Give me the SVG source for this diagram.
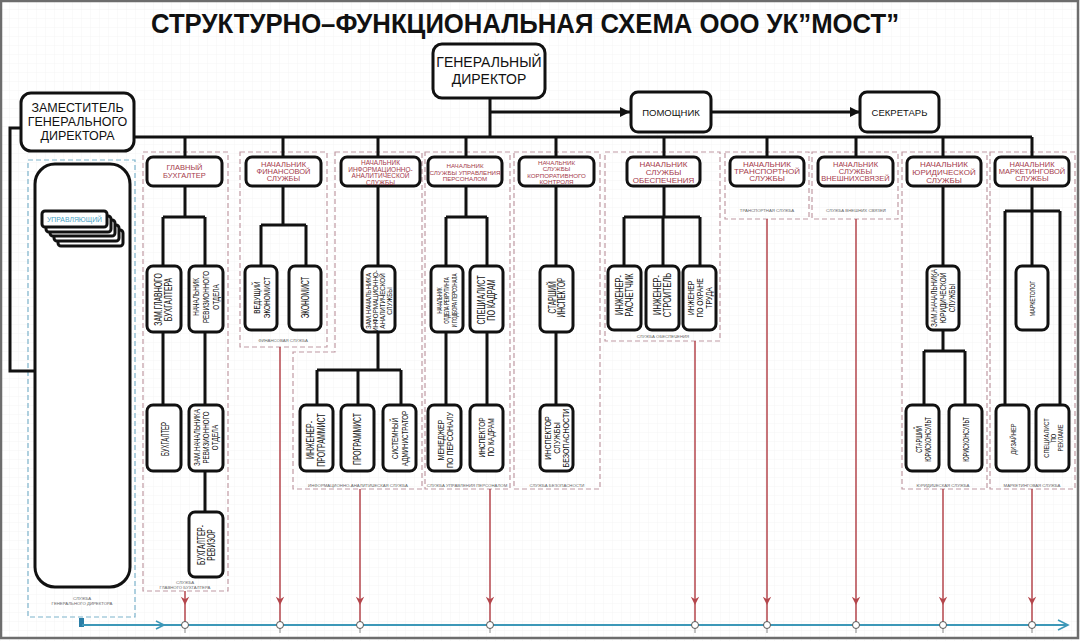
<svg xmlns="http://www.w3.org/2000/svg" width="1080" height="641" viewBox="0 0 1080 641">
<defs>
<pattern id="grid" width="9" height="9" patternUnits="userSpaceOnUse"><path d="M9 0H0V9" fill="none" stroke="#efefef" stroke-width="0.6"/></pattern>
<marker id="ab" viewBox="0 0 10 10" refX="10" refY="5" markerWidth="10" markerHeight="10" markerUnits="userSpaceOnUse" orient="auto"><path d="M0,0L10,5L0,10z" fill="#111"/></marker>
<marker id="ar" viewBox="0 0 10 12" refX="10" refY="6" markerWidth="11" markerHeight="10" markerUnits="userSpaceOnUse" orient="auto"><path d="M0,1L10,6L0,11L3,6z" fill="#b4464c"/></marker>
<style>
.box{fill:#fff;stroke:#111;stroke-width:3}
.ln{fill:none;stroke:#111;stroke-width:3}
.grp{fill:none;stroke:#c09aa3;stroke-width:1.2;stroke-dasharray:5 3}
.gblue{fill:none;stroke:#7cb3cc;stroke-width:1.2;stroke-dasharray:5 3}
.hd{font-family:"Liberation Sans",Arial,sans-serif;fill:#a53b4b;text-anchor:middle;dominant-baseline:central}
.rt{font-family:"Liberation Sans",Arial,sans-serif;fill:#111;text-anchor:middle;dominant-baseline:central}
.bt{font-family:"Liberation Sans",Arial,sans-serif;fill:#111;text-anchor:middle;dominant-baseline:central}
.lbl{font-family:"Liberation Sans",Arial,sans-serif;font-size:4.3px;fill:#666;text-anchor:middle}
.red{fill:none;stroke:#b4464c;stroke-width:1.5}
.dot{fill:#fff;stroke:#555;stroke-width:1}
.tick{stroke:#888;stroke-width:1}
</style>
</defs>
<rect x="0" y="0" width="1080" height="641" fill="#fff"/>
<rect x="0" y="0" width="1080" height="641" fill="url(#grid)"/>
<rect x="1" y="1" width="1077" height="637" fill="none" stroke="#6d6d6d" stroke-width="2.5"/>

<text x="525" y="33" font-family="Liberation Sans, Arial, sans-serif" font-weight="bold" font-size="27" text-anchor="middle" textLength="748" lengthAdjust="spacingAndGlyphs" fill="#111">СТРУКТУРНО–ФУНКЦИОНАЛЬНАЯ СХЕМА ООО УК”МОСТ”</text>

<g id="groups">
<rect class="gblue" x="28" y="160" width="107" height="457"/>
<text class="lbl" x="82" y="600">СЛУЖБА</text><text class="lbl" x="82" y="604.5">ГЕНЕРАЛЬНОГО ДИРЕКТОРА</text>
<rect class="grp" x="143" y="152" width="85" height="439"/>
<text class="lbl" x="185" y="584">СЛУЖБА</text><text class="lbl" x="185" y="588.5">ГЛАВНОГО БУХГАЛТЕРА</text>
<rect class="grp" x="240" y="152" width="87" height="195"/>
<text class="lbl" x="283" y="342">ФИНАНСОВАЯ СЛУЖБА</text>
<path class="grp" d="M335,152H422V489H293V352H335Z"/>
<text class="lbl" x="358" y="487">ИНФОРМАЦИОННО-АНАЛИТИЧЕСКАЯ СЛУЖБА</text>
<rect class="grp" x="425" y="152" width="85" height="337"/>
<text class="lbl" x="467" y="487">СЛУЖБА УПРАВЛЕНИЯ ПЕРСОНАЛОМ</text>
<rect class="grp" x="514" y="152" width="86" height="337"/>
<text class="lbl" x="557" y="487">СЛУЖБА БЕЗОПАСНОСТИ</text>
<rect class="grp" x="605" y="152" width="115" height="189"/>
<text class="lbl" x="663" y="338">СЛУЖБА ОБЕСПЕЧЕНИЯ</text>
<rect class="grp" x="725" y="152" width="84" height="67"/>
<text class="lbl" x="767" y="212">ТРАНСПОРТНАЯ СЛУЖБА</text>
<rect class="grp" x="812" y="152" width="86" height="67"/>
<text class="lbl" x="856" y="212">СЛУЖБА ВНЕШНИХ СВЯЗЕЙ</text>
<rect class="grp" x="902" y="152" width="85" height="337"/>
<text class="lbl" x="943" y="487">ЮРИДИЧЕСКАЯ СЛУЖБА</text>
<rect class="grp" x="990" y="152" width="85" height="337"/>
<text class="lbl" x="1032" y="487">МАРКЕТИНГОВАЯ СЛУЖБА</text>
</g>

<g id="connectors">
<path class="ln" d="M490,98V137M134,137H1032"/>
<path class="ln" d="M490,112H630" marker-end="url(#ab)"/>
<path class="ln" d="M711,112H860" marker-end="url(#ab)"/>
<path class="ln" d="M21,128H10V371H35"/>
<path class="ln" d="M185,137V157M283,137V157M378,137V157M466,137V157M556,137V157M664,137V157M767,137V157M856,137V157M943,137V157M1032,137V157"/>
<path class="ln" d="M185,186V217M163,217H205M163,217V266M205,217V266M163,332V405M205,332V405M205,471V512"/>
<path class="ln" d="M283,186V225M261,225H306M261,225V266M306,225V266"/>
<path class="ln" d="M378,186V266M378,332V370M317,370H401M317,370V405M358,370V405M401,370V405"/>
<path class="ln" d="M466,186V217M446,217H487M446,217V266M487,217V266M446,332V405M487,332V405"/>
<path class="ln" d="M556,186V266M556,332V405"/>
<path class="ln" d="M664,186V217M624,217H700M624,217V266M663,217V266M700,217V266"/>
<path class="ln" d="M943,186V266M943,330V351M924,351H965M924,351V405M965,351V405"/>
<path class="ln" d="M1032,186V266M1005,211H1060M1005,211V405M1060,211V405"/>
<path class="red" d="M185,591V605" marker-end="url(#ar)"/>
<path class="red" d="M280,347V605" marker-end="url(#ar)"/>
<path class="red" d="M360,489V605" marker-end="url(#ar)"/>
<path class="red" d="M490,489V605" marker-end="url(#ar)"/>
<path class="red" d="M695,341V605" marker-end="url(#ar)"/>
<path class="red" d="M767,219V605" marker-end="url(#ar)"/>
<path class="red" d="M856,219V605" marker-end="url(#ar)"/>
<path class="red" d="M943,489V605" marker-end="url(#ar)"/>
<path class="red" d="M1032,489V605" marker-end="url(#ar)"/>
<path class="red" d="M185,605V625M280,605V625M360,605V625M490,605V625M695,605V625M767,605V625M856,605V625M943,605V625M1032,605V625"/>
<rect x="79" y="618" width="5" height="9" fill="#2b7fa8"/>
<path d="M82,625H1067" fill="none" stroke="#3d98b8" stroke-width="2"/>
<path d="M156,621L164,625L156,629" fill="none" stroke="#3d98b8" stroke-width="1.6"/>
<path d="M1058,620L1068,625L1058,630" fill="none" stroke="#3d98b8" stroke-width="1.6"/>
<path class="tick" d="M185,629V633M280,629V633M360,629V633M490,629V633M695,629V633M767,629V633M856,629V633M943,629V633M1032,629V633"/>
<circle class="dot" cx="185" cy="625" r="3.5"/><circle class="dot" cx="280" cy="625" r="3.5"/><circle class="dot" cx="360" cy="625" r="3.5"/><circle class="dot" cx="490" cy="625" r="3.5"/><circle class="dot" cx="695" cy="625" r="3.5"/><circle class="dot" cx="767" cy="625" r="3.5"/><circle class="dot" cx="856" cy="625" r="3.5"/><circle class="dot" cx="943" cy="625" r="3.5"/><circle class="dot" cx="1032" cy="625" r="3.5"/>
</g>

<g id="gen-dir"><rect class="box" x="433" y="44" width="112" height="54" rx="9"/>
<text class="bt" font-size="14"><tspan x="489" y="62">ГЕНЕРАЛЬНЫЙ</tspan><tspan x="489" y="79">ДИРЕКТОР</tspan></text></g>
<g id="pomoshnik"><rect class="box" x="631" y="92" width="80" height="40" rx="7"/>
<text class="bt" font-size="9.5" x="671" y="112">ПОМОЩНИК</text></g>
<g id="sekretar"><rect class="box" x="860" y="92" width="79" height="40" rx="7"/>
<text class="bt" font-size="9.5" x="899.5" y="112">СЕКРЕТАРЬ</text></g>
<g id="zam-gen"><rect class="box" x="21" y="93" width="113" height="58" rx="10"/>
<text class="bt" font-size="12.5"><tspan x="77.5" y="108">ЗАМЕСТИТЕЛЬ</tspan><tspan x="77.5" y="122">ГЕНЕРАЛЬНОГО</tspan><tspan x="77.5" y="136">ДИРЕКТОРА</tspan></text></g>

<g id="upr-container"><rect class="box" x="35" y="164" width="95" height="423" rx="20"/></g>
<g id="upravl">
<rect class="box" stroke-width="2" x="58" y="230" width="65" height="16" rx="3"/>
<rect class="box" stroke-width="2" x="54" y="225" width="65" height="16" rx="3"/>
<rect class="box" stroke-width="2" x="50" y="220" width="65" height="16" rx="3"/>
<rect class="box" stroke-width="2" x="46" y="216" width="65" height="16" rx="3"/>
<rect class="box" stroke-width="2" x="42" y="211" width="65" height="16" rx="3"/>
<text font-family="Liberation Sans, Arial, sans-serif" font-size="7" fill="#4a9fc4" text-anchor="middle" dominant-baseline="central" x="74.5" y="219" textLength="55" lengthAdjust="spacingAndGlyphs">УПРАВЛЯЮЩИЙ</text>
</g>

<g id="glavbuh"><rect class="box" x="147" y="157" width="75" height="29" rx="6"/>
<text class="hd" font-size="7.5"><tspan x="184.5" y="167">ГЛАВНЫЙ</tspan><tspan x="184.5" y="174.5">БУХГАЛТЕР</tspan></text></g>
<g id="zam-glavbuh"><rect class="box" x="147" y="266" width="34" height="66" rx="6"/>
<text class="rt" font-size="10" transform="translate(164,299.5) rotate(-90) scale(0.69,1)"><tspan x="0" y="-6">ЗАМ.ГЛАВНОГО</tspan><tspan x="0" y="5">БУХГАЛТЕРА</tspan></text></g>
<g id="nach-rev"><rect class="box" x="189" y="266" width="34" height="66" rx="6"/>
<text class="rt" font-size="9" transform="translate(206,297) rotate(-90) scale(0.7,1)"><tspan x="0" y="-10">НАЧАЛЬНИК</tspan><tspan x="0" y="0">РЕВИЗИОННОГО</tspan><tspan x="0" y="10">ОТДЕЛА</tspan></text></g>
<g id="buhgalter"><rect class="box" x="147" y="405" width="34" height="66" rx="6"/>
<text class="rt" font-size="10" transform="translate(165,439) rotate(-90) scale(0.6,1)"><tspan x="0" y="0">БУХГАЛТЕР</tspan></text></g>
<g id="zam-nach-rev"><rect class="box" x="189" y="405" width="34" height="66" rx="6"/>
<text class="rt" font-size="8.5" transform="translate(206,437.5) rotate(-90) scale(0.74,1)"><tspan x="0" y="-9">ЗАМ.НАЧАЛЬНИКА</tspan><tspan x="0" y="0">РЕВИЗИОННОГО</tspan><tspan x="0" y="9">ОТДЕЛА</tspan></text></g>
<g id="buh-reviz"><rect class="box" x="189" y="512" width="34" height="65" rx="6"/>
<text class="rt" font-size="10" transform="translate(206,545) rotate(-90) scale(0.66,1)"><tspan x="0" y="-5">БУХГАЛТЕР-</tspan><tspan x="0" y="5">РЕВИЗОР</tspan></text></g>

<g id="nach-fin"><rect class="box" x="246" y="157" width="75" height="29" rx="6"/>
<text class="hd" font-size="7.5"><tspan x="283.5" y="164">НАЧАЛЬНИК</tspan><tspan x="283.5" y="171">ФИНАНСОВОЙ</tspan><tspan x="283.5" y="178">СЛУЖБЫ</tspan></text></g>
<g id="ved-ekon"><rect class="box" x="245" y="266" width="32" height="64" rx="6"/>
<text class="rt" font-size="9" transform="translate(261,297.5) rotate(-90) scale(0.72,1)"><tspan x="0" y="-4.5">ВЕДУЩИЙ</tspan><tspan x="0" y="5.5">ЭКОНОМИСТ</tspan></text></g>
<g id="ekon"><rect class="box" x="289" y="266" width="32" height="64" rx="6"/>
<text class="rt" font-size="10" transform="translate(305,297.5) rotate(-90) scale(0.65,1)"><tspan x="0" y="0">ЭКОНОМИСТ</tspan></text></g>

<g id="nach-info"><rect class="box" x="341" y="157" width="79" height="29" rx="6"/>
<text class="hd" font-size="6.5"><tspan x="380.5" y="162">НАЧАЛЬНИК</tspan><tspan x="380.5" y="168.5">ИНФОРМАЦИОННО-</tspan><tspan x="380.5" y="175">АНАЛИТИЧЕСКОЙ</tspan><tspan x="380.5" y="181.5">СЛУЖБЫ</tspan></text></g>
<g id="zam-info"><rect class="box" x="362" y="266" width="33" height="66" rx="6"/>
<text class="rt" font-size="7" transform="translate(378.5,301) rotate(-90) scale(0.89,1)"><tspan x="0" y="-10.5">ЗАМ.НАЧАЛЬНИКА</tspan><tspan x="0" y="-3.5">ИНФОРМАЦИОННО-</tspan><tspan x="0" y="3.5">АНАЛИТИЧЕСКОЙ</tspan><tspan x="0" y="10.5">СЛУЖБЫ</tspan></text></g>
<g id="inzh-prog"><rect class="box" x="300" y="405" width="33" height="66" rx="6"/>
<text class="rt" font-size="10" transform="translate(316.5,440) rotate(-90) scale(0.7,1)"><tspan x="0" y="-5.5">ИНЖЕНЕР-</tspan><tspan x="0" y="5.5">ПРОГРАММИСТ</tspan></text></g>
<g id="prog"><rect class="box" x="341" y="405" width="33" height="66" rx="6"/>
<text class="rt" font-size="10" transform="translate(357.5,439) rotate(-90) scale(0.68,1)"><tspan x="0" y="0">ПРОГРАММИСТ</tspan></text></g>
<g id="sys-adm"><rect class="box" x="383" y="405" width="33" height="66" rx="6"/>
<text class="rt" font-size="9.5" transform="translate(399.5,438.5) rotate(-90) scale(0.66,1)"><tspan x="0" y="-5">СИСТЕМНЫЙ</tspan><tspan x="0" y="5">АДМИНИСТРАТОР</tspan></text></g>

<g id="nach-pers"><rect class="box" x="428" y="157" width="74" height="29" rx="6"/>
<text class="hd" font-size="6.2"><tspan x="465" y="165">НАЧАЛЬНИК</tspan><tspan x="465" y="171.5">СЛУЖБЫ УПРАВЛЕНИЯ</tspan><tspan x="465" y="178">ПЕРСОНАЛОМ</tspan></text></g>
<g id="nach-rekr"><rect class="box" x="431" y="266" width="32" height="66" rx="6"/>
<text class="rt" font-size="6.5" transform="translate(447,300.5) rotate(-90) scale(0.67,1)"><tspan x="0" y="-7.5">НАЧАЛЬНИК</tspan><tspan x="0" y="0">ОТДЕЛА РЕКРУТИНГА</tspan><tspan x="0" y="7.5">И ПОДБОРА ПЕРСОНАЛА</tspan></text></g>
<g id="spec-kadr"><rect class="box" x="470" y="266" width="33" height="66" rx="6"/>
<text class="rt" font-size="10" transform="translate(486.5,300) rotate(-90) scale(0.71,1)"><tspan x="0" y="-5">СПЕЦИАЛИСТ</tspan><tspan x="0" y="5">ПО КАДРАМ</tspan></text></g>
<g id="menedzher"><rect class="box" x="428" y="405" width="33" height="66" rx="6"/>
<text class="rt" font-size="9" transform="translate(444.5,440) rotate(-90) scale(0.78,1)"><tspan x="0" y="-4">МЕНЕДЖЕР</tspan><tspan x="0" y="5.5">ПО ПЕРСОНАЛУ</tspan></text></g>
<g id="insp-kadr"><rect class="box" x="470" y="405" width="33" height="66" rx="6"/>
<text class="rt" font-size="8.5" transform="translate(486.5,437.5) rotate(-90) scale(0.77,1)"><tspan x="0" y="-4.5">ИНСПЕКТОР</tspan><tspan x="0" y="4.5">ПО КАДРАМ</tspan></text></g>

<g id="nach-korp"><rect class="box" x="519" y="157" width="75" height="29" rx="6"/>
<text class="hd" font-size="6.2"><tspan x="556.5" y="161.5">НАЧАЛЬНИК</tspan><tspan x="556.5" y="168">СЛУЖБЫ</tspan><tspan x="556.5" y="174.5">КОРПОРАТИВНОГО</tspan><tspan x="556.5" y="181">КОНТРОЛЯ</tspan></text></g>
<g id="st-insp"><rect class="box" x="540" y="266" width="33" height="66" rx="6"/>
<text class="rt" font-size="10" transform="translate(556.5,297.5) rotate(-90) scale(0.65,1)"><tspan x="0" y="-4.5">СТАРШИЙ</tspan><tspan x="0" y="4.5">ИНСПЕКТОР</tspan></text></g>
<g id="insp-sb"><rect class="box" x="540" y="405" width="33" height="66" rx="6"/>
<text class="rt" font-size="9" transform="translate(556.5,438) rotate(-90) scale(0.79,1)"><tspan x="0" y="-9">ИНСПЕКТОР</tspan><tspan x="0" y="0">СЛУЖБЫ</tspan><tspan x="0" y="9">БЕЗОПАСНОСТИ</tspan></text></g>

<g id="nach-obesp"><rect class="box" x="627" y="157" width="73" height="29" rx="6"/>
<text class="hd" font-size="8"><tspan x="663.5" y="163.5">НАЧАЛЬНИК</tspan><tspan x="663.5" y="171.5">СЛУЖБЫ</tspan><tspan x="663.5" y="179.5">ОБЕСПЕЧЕНИЯ</tspan></text></g>
<g id="inzh-rasch"><rect class="box" x="608" y="266" width="33" height="64" rx="6"/>
<text class="rt" font-size="10.5" transform="translate(624.5,295) rotate(-90) scale(0.7,1)"><tspan x="0" y="-4.5">ИНЖЕНЕР-</tspan><tspan x="0" y="5">РАСЧЕТЧИК</tspan></text></g>
<g id="inzh-str"><rect class="box" x="646" y="266" width="33" height="64" rx="6"/>
<text class="rt" font-size="10.5" transform="translate(662.5,295) rotate(-90) scale(0.7,1)"><tspan x="0" y="-4.5">ИНЖЕНЕР-</tspan><tspan x="0" y="5">СТРОИТЕЛЬ</tspan></text></g>
<g id="inzh-ohr"><rect class="box" x="683" y="266" width="33" height="64" rx="6"/>
<text class="rt" font-size="9.5" transform="translate(699.5,298) rotate(-90) scale(0.71,1)"><tspan x="0" y="-9">ИНЖЕНЕР</tspan><tspan x="0" y="0">ПО ОХРАНЕ</tspan><tspan x="0" y="9">ТРУДА</tspan></text></g>

<g id="nach-trans"><rect class="box" x="730" y="157" width="74" height="29" rx="6"/>
<text class="hd" font-size="8"><tspan x="767" y="164">НАЧАЛЬНИК</tspan><tspan x="767" y="171">ТРАНСПОРТНОЙ</tspan><tspan x="767" y="178">СЛУЖБЫ</tspan></text></g>
<g id="nach-vnesh"><rect class="box" x="818" y="157" width="75" height="29" rx="6"/>
<text class="hd" font-size="7.5"><tspan x="855.5" y="164">НАЧАЛЬНИК</tspan><tspan x="855.5" y="171">СЛУЖБЫ</tspan><tspan x="855.5" y="178">ВНЕШНИХСВЯЗЕЙ</tspan></text></g>

<g id="nach-yur"><rect class="box" x="907" y="157" width="74" height="29" rx="6"/>
<text class="hd" font-size="8"><tspan x="944" y="163.5">НАЧАЛЬНИК</tspan><tspan x="944" y="171.5">ЮРИДИЧЕСКОЙ</tspan><tspan x="944" y="179.5">СЛУЖБЫ</tspan></text></g>
<g id="zam-yur"><rect class="box" x="927" y="266" width="32" height="64" rx="6"/>
<text class="rt" font-size="9" transform="translate(943,298) rotate(-90) scale(0.71,1)"><tspan x="0" y="-9">ЗАМ.НАЧАЛЬНИКА</tspan><tspan x="0" y="0">ЮРИДИЧЕСКОЙ</tspan><tspan x="0" y="9">СЛУЖБЫ</tspan></text></g>
<g id="st-yur"><rect class="box" x="906" y="405" width="33" height="66" rx="6"/>
<text class="rt" font-size="9" transform="translate(922.5,439.5) rotate(-90) scale(0.6,1)"><tspan x="0" y="-4.5">СТАРШИЙ</tspan><tspan x="0" y="4.5">ЮРИСКОНСУЛЬТ</tspan></text></g>
<g id="yur"><rect class="box" x="949" y="405" width="33" height="66" rx="6"/>
<text class="rt" font-size="9" transform="translate(965.5,439.5) rotate(-90) scale(0.6,1)"><tspan x="0" y="0">ЮРИСКОНСУЛЬТ</tspan></text></g>

<g id="nach-mark"><rect class="box" x="995" y="157" width="74" height="29" rx="6"/>
<text class="hd" font-size="7.5"><tspan x="1032" y="164">НАЧАЛЬНИК</tspan><tspan x="1032" y="171">МАРКЕТИНГОВОЙ</tspan><tspan x="1032" y="178">СЛУЖБЫ</tspan></text></g>
<g id="marketolog"><rect class="box" x="1016" y="266" width="32" height="64" rx="6"/>
<text class="rt" font-size="7.5" transform="translate(1032,298.5) rotate(-90) scale(0.7,1)"><tspan x="0" y="0">МАРКЕТОЛОГ</tspan></text></g>
<g id="dizainer"><rect class="box" x="996" y="405" width="33" height="66" rx="6"/>
<text class="rt" font-size="7.5" transform="translate(1012.5,439) rotate(-90) scale(0.76,1)"><tspan x="0" y="0">ДИЗАЙНЕР</tspan></text></g>
<g id="spec-rekl"><rect class="box" x="1036" y="405" width="33" height="66" rx="6"/>
<text class="rt" font-size="7.5" transform="translate(1052.5,438) rotate(-90) scale(0.76,1)"><tspan x="0" y="-7">СПЕЦИАЛИСТ</tspan><tspan x="0" y="0">ПО</tspan><tspan x="0" y="7.5">РЕКЛАМЕ</tspan></text></g>
</svg>
